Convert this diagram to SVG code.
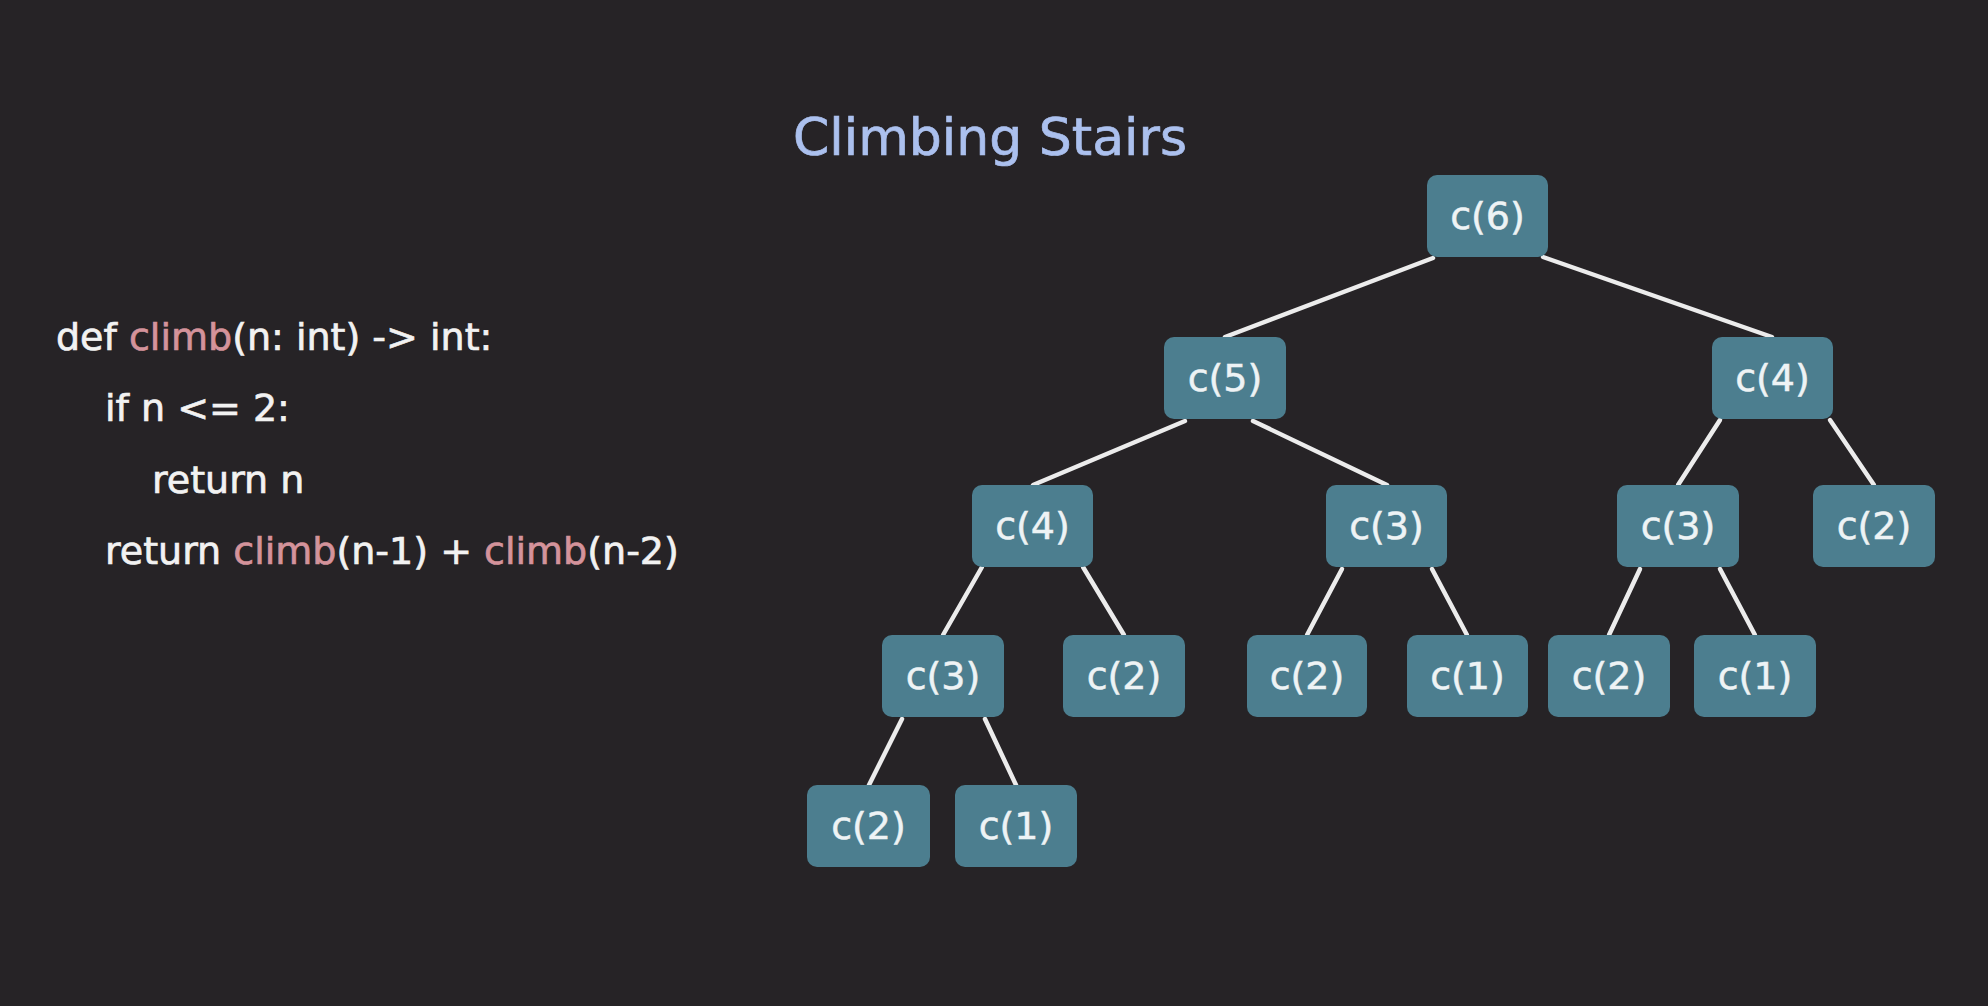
<svg xmlns="http://www.w3.org/2000/svg" width="1988" height="1006" viewBox="0 0 1988 1006">
<style>
.bg{fill:#262326}
.title{font-family:"DejaVu Sans",sans-serif;font-size:52px;fill:#abc0ee;stroke:#abc0ee;stroke-width:0.7;text-anchor:middle}
.code{font-family:"DejaVu Sans",sans-serif;font-size:38px;fill:#f2f2f2;stroke:#f2f2f2;stroke-width:0.7}
.fn{fill:#d4939b;stroke:#d4939b}
.box{fill:#4c7e8f}
.lbl{font-family:"DejaVu Sans",sans-serif;font-size:38px;fill:#eef3f5;stroke:#eef3f5;stroke-width:0.5;text-anchor:middle}
.edge{stroke:#ececec;stroke-width:4.5;stroke-linecap:round;fill:none}
</style>
<rect class="bg" x="0" y="0" width="1988" height="1006"/>
<text class="title" x="990" y="155">Climbing Stairs</text>
<g id="code">
<text class="code" x="56" y="350">def <tspan class="fn">climb</tspan>(n: int) -&gt; int:</text>
<text class="code" x="105" y="421">if n &lt;= 2:</text>
<text class="code" x="152" y="493">return n</text>
<text class="code" x="105" y="564">return <tspan class="fn">climb</tspan>(n-1) + <tspan class="fn">climb</tspan>(n-2)</text>
</g>
<g id="connectors">
<line class="edge" x1="1433" y1="258" x2="1225" y2="337"/>
<line class="edge" x1="1543" y1="257" x2="1772" y2="337"/>
<line class="edge" x1="1185" y1="421" x2="1033" y2="485"/>
<line class="edge" x1="1253" y1="421" x2="1387" y2="485"/>
<line class="edge" x1="1720" y1="420" x2="1678" y2="485"/>
<line class="edge" x1="1830" y1="420" x2="1874" y2="485"/>
<line class="edge" x1="982" y1="567" x2="943" y2="635"/>
<line class="edge" x1="1083" y1="567" x2="1124" y2="635"/>
<line class="edge" x1="1342" y1="569" x2="1307" y2="635"/>
<line class="edge" x1="1432" y1="569" x2="1467" y2="635"/>
<line class="edge" x1="1640" y1="569" x2="1609" y2="635"/>
<line class="edge" x1="1720" y1="569" x2="1755" y2="635"/>
<line class="edge" x1="902" y1="719" x2="869" y2="785"/>
<line class="edge" x1="985" y1="719" x2="1016" y2="785"/>
</g>
<g id="n_c6"><rect class="box" x="1427" y="175" width="121" height="82" rx="10"/><text class="lbl" x="1487.5" y="229">c(6)</text></g>
<g id="n_c5"><rect class="box" x="1164" y="337" width="122" height="82" rx="10"/><text class="lbl" x="1225" y="391">c(5)</text></g>
<g id="n_c4a"><rect class="box" x="1712" y="337" width="121" height="82" rx="10"/><text class="lbl" x="1772.5" y="391">c(4)</text></g>
<g id="n_c4b"><rect class="box" x="972" y="485" width="121" height="82" rx="10"/><text class="lbl" x="1032.5" y="539">c(4)</text></g>
<g id="n_c3a"><rect class="box" x="1326" y="485" width="121" height="82" rx="10"/><text class="lbl" x="1386.5" y="539">c(3)</text></g>
<g id="n_c3b"><rect class="box" x="1617" y="485" width="122" height="82" rx="10"/><text class="lbl" x="1678" y="539">c(3)</text></g>
<g id="n_c2a"><rect class="box" x="1813" y="485" width="122" height="82" rx="10"/><text class="lbl" x="1874" y="539">c(2)</text></g>
<g id="n_c3c"><rect class="box" x="882" y="635" width="122" height="82" rx="10"/><text class="lbl" x="943" y="689">c(3)</text></g>
<g id="n_c2b"><rect class="box" x="1063" y="635" width="122" height="82" rx="10"/><text class="lbl" x="1124" y="689">c(2)</text></g>
<g id="n_c2c"><rect class="box" x="1247" y="635" width="120" height="82" rx="10"/><text class="lbl" x="1307" y="689">c(2)</text></g>
<g id="n_c1a"><rect class="box" x="1407" y="635" width="121" height="82" rx="10"/><text class="lbl" x="1467.5" y="689">c(1)</text></g>
<g id="n_c2d"><rect class="box" x="1548" y="635" width="122" height="82" rx="10"/><text class="lbl" x="1609" y="689">c(2)</text></g>
<g id="n_c1b"><rect class="box" x="1694" y="635" width="122" height="82" rx="10"/><text class="lbl" x="1755" y="689">c(1)</text></g>
<g id="n_c2e"><rect class="box" x="807" y="785" width="123" height="82" rx="10"/><text class="lbl" x="868.5" y="839">c(2)</text></g>
<g id="n_c1c"><rect class="box" x="955" y="785" width="122" height="82" rx="10"/><text class="lbl" x="1016" y="839">c(1)</text></g>
</svg>
